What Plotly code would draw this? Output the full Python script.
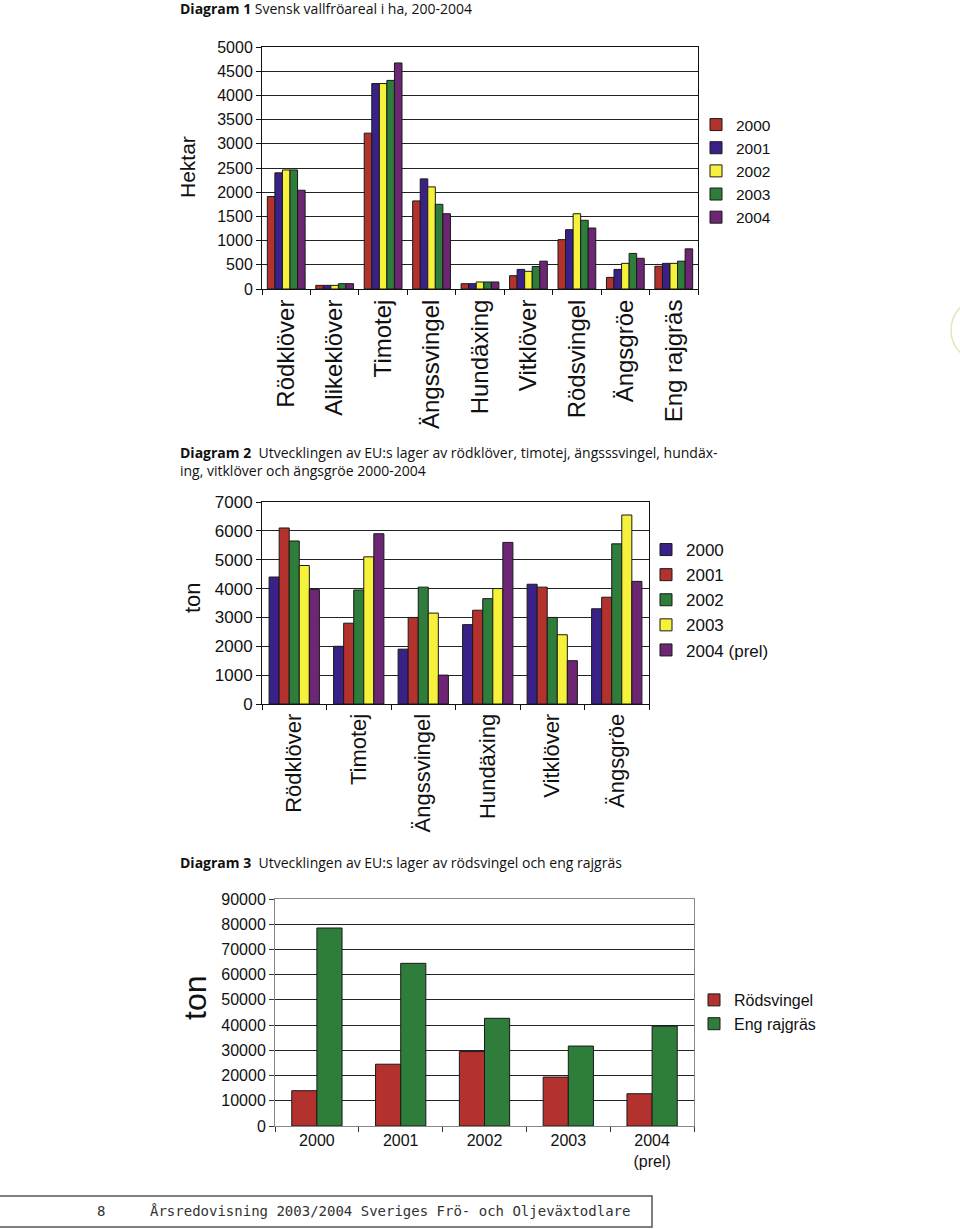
import plotly.graph_objects as go

W, H = 960, 1229
OFF = 0  # body margin removed by post_script below
def px(x): return (x - OFF) / W
def py(y): return 1 - (y - OFF) / H

# ---------------- Data ----------------
d1_categories = ["Rödklöver", "Alikeklöver", "Timotej", "Ängssvingel", "Hundäxing",
                 "Vitklöver", "Rödsvingel", "Ängsgröe", "Eng rajgräs"]
d1_years = ["2000", "2001", "2002", "2003", "2004"]
d1_2000 = [1910, 75, 3220, 1820, 110, 275, 1020, 240, 470]
d1_2001 = [2400, 75, 4245, 2275, 110, 405, 1225, 405, 530]
d1_2002 = [2460, 75, 4245, 2110, 145, 365, 1555, 530, 530]
d1_2003 = [2460, 110, 4310, 1750, 145, 465, 1420, 735, 575]
d1_2004 = [2040, 110, 4670, 1555, 145, 575, 1260, 635, 830]

d2_categories = ["Rödklöver", "Timotej", "Ängssvingel", "Hundäxing", "Vitklöver", "Ängsgröe"]
d2_years = ["2000", "2001", "2002", "2003", "2004 (prel)"]
d2_2000 = [4400, 2000, 1900, 2750, 4150, 3300]
d2_2001 = [6100, 2800, 3000, 3250, 4050, 3700]
d2_2002 = [5650, 3950, 4050, 3650, 3000, 5550]
d2_2003 = [4800, 5100, 3150, 4000, 2400, 6550]
d2_2004 = [3970, 5900, 1000, 5600, 1500, 4250]

d3_categories = ["2000", "2001", "2002", "2003", "2004<br>(prel)"]
d3_series = ["Rödsvingel", "Eng rajgräs"]
d3_rodsvingel = [14000, 24500, 29500, 19400, 12800]
d3_engrajgras = [78500, 64500, 42700, 31700, 39600]

RED = "#B3322E"
BLUE = "#3A2187"
YELLOW = "#F6F23C"
GREEN = "#2E7D3B"
PURPLE = "#6C2674"
OUTLINE = "#1a1a1a"

FONT = "Liberation Sans, Arial, sans-serif"
TFONT = "Open Sans, Noto Sans, sans-serif"

fig = go.Figure()

# ---------------- Diagram 1 ----------------
for name, vals, col in zip(d1_years, [d1_2000, d1_2001, d1_2002, d1_2003, d1_2004],
                           [RED, BLUE, YELLOW, GREEN, PURPLE]):
    fig.add_trace(go.Bar(x=d1_categories, y=vals, name=name, marker_color=col,
                         marker_line=dict(color=OUTLINE, width=1),
                         xaxis="x", yaxis="y", legend="legend"))

# ---------------- Diagram 2 ----------------
for name, vals, col in zip(d2_years, [d2_2000, d2_2001, d2_2002, d2_2003, d2_2004],
                           [BLUE, RED, GREEN, YELLOW, PURPLE]):
    fig.add_trace(go.Bar(x=d2_categories, y=vals, name=name, marker_color=col,
                         marker_line=dict(color=OUTLINE, width=1),
                         xaxis="x2", yaxis="y2", legend="legend2"))

# ---------------- Diagram 3 ----------------
for i, (name, vals, col) in enumerate(zip(d3_series, [d3_rodsvingel, d3_engrajgras], [RED, GREEN])):
    fig.add_trace(go.Bar(x=d3_categories, y=vals, name=name, marker_color=col,
                         marker_line=dict(color=OUTLINE, width=1),
                         width=0.3, offset=-0.3 + 0.3 * i,
                         xaxis="x3", yaxis="y3", legend="legend3"))

axis_common = dict(showline=True, linecolor="#111", linewidth=1, mirror=True,
                   ticks="outside", ticklen=5, tickcolor="#111", tickwidth=1,
                   automargin=False)

fig.update_layout(
    template="none",
    width=W, height=H, autosize=False,
    margin=dict(l=0, r=0, t=0, b=0, pad=0),
    paper_bgcolor="white", plot_bgcolor="white",
    barmode="group", bargap=0.22, bargroupgap=0,
    font=dict(family=FONT, color="#111"),
    xaxis=dict(type="category", domain=[px(262), px(698)], anchor="y", tickson="boundaries",
               showgrid=False, tickangle=-90, tickfont=dict(size=24, family=FONT), **axis_common),
    yaxis=dict(domain=[py(289), py(47)], anchor="x", range=[0, 5000], dtick=500,
               showgrid=True, gridcolor="#222", gridwidth=1, tickformat="d",
               tickfont=dict(size=16, family=FONT), zeroline=False, **axis_common),
    xaxis2=dict(type="category", domain=[px(262), px(649)], anchor="y2", tickson="boundaries",
                showgrid=False, tickangle=-90, tickfont=dict(size=22, family=FONT), **axis_common),
    yaxis2=dict(domain=[py(704), py(502)], anchor="x2", range=[0, 7000], dtick=1000,
                showgrid=True, gridcolor="#222", gridwidth=1, tickformat="d",
                tickfont=dict(size=17, family=FONT), zeroline=False, **axis_common),
    xaxis3=dict(type="category", domain=[px(275), px(694)], anchor="y3", tickson="boundaries",
                showgrid=False, tickangle=0, tickfont=dict(size=16, family=FONT),
                showline=True, linecolor="#888", linewidth=1, mirror=True,
                ticks="outside", ticklen=5, tickcolor="#333", automargin=False),
    yaxis3=dict(domain=[py(1126), py(899)], anchor="x3", range=[0, 90000], dtick=10000,
                showgrid=True, gridcolor="#222", gridwidth=1, tickformat="d",
                tickfont=dict(size=16, family=FONT), zeroline=False,
                showline=True, linecolor="#888", linewidth=1, mirror=True,
                ticks="outside", ticklen=5, tickcolor="#333", automargin=False),
    legend=dict(x=px(696), y=py(108), xanchor="left", yanchor="top",
                font=dict(size=15.5, family=FONT), bgcolor="rgba(0,0,0,0)",
                itemwidth=30, traceorder="normal"),
    legend2=dict(x=px(646), y=py(532), xanchor="left", yanchor="top",
                 font=dict(size=17, family=FONT), bgcolor="rgba(0,0,0,0)",
                 itemwidth=30, traceorder="normal"),
    legend3=dict(x=px(694), y=py(983), xanchor="left", yanchor="top",
                 font=dict(size=16, family=FONT), bgcolor="rgba(0,0,0,0)",
                 itemwidth=30, traceorder="normal"),
)

annotations = [
    dict(x=px(178), y=py(9), text="<b>Diagram 1</b> Svensk vallfröareal i ha, 200-2004",
         font=dict(size=14, family=TFONT)),
    dict(x=px(178), y=py(461),
         text="<b>Diagram 2</b>  Utvecklingen av EU:s lager av rödklöver, timotej, ängsssvingel, hundäx-"
              "<br>ing, vitklöver och ängsgröe 2000-2004",
         font=dict(size=14, family=TFONT), align="left"),
    dict(x=px(178), y=py(862),
         text="<b>Diagram 3</b>  Utvecklingen av EU:s lager av rödsvingel och eng rajgräs",
         font=dict(size=14, family=TFONT)),
    dict(x=px(95), y=py(1211), text="8", font=dict(size=14, family="DejaVu Sans Mono", color="#333")),
    dict(x=px(148), y=py(1211), text="Årsredovisning 2003/2004 Sveriges Frö- och Oljeväxtodlare",
         font=dict(size=14, family="DejaVu Sans Mono", color="#333")),
]
for a in annotations:
    a.update(xref="paper", yref="paper", xanchor="left", yanchor="middle", showarrow=False)

annotations += [
    dict(x=px(188), y=py(167), text="Hektar", textangle=-90, font=dict(size=21, family=FONT)),
    dict(x=px(193), y=py(598), text="ton", textangle=-90, font=dict(size=22, family=FONT)),
    dict(x=px(195), y=py(998), text="ton", textangle=-90, font=dict(size=32, family=FONT)),
]
for a in annotations[-3:]:
    a.update(xref="paper", yref="paper", xanchor="center", yanchor="middle", showarrow=False)

fig.update_layout(annotations=annotations)

fig.update_layout(shapes=[
    dict(type="rect", xref="paper", yref="paper", x0=px(-5), x1=px(652), y0=py(1227), y1=py(1196),
         line=dict(color="#555", width=1.5), fillcolor="rgba(0,0,0,0)"),
    dict(type="circle", xref="paper", yref="paper", x0=px(951), x1=px(1015), y0=py(362), y1=py(298),
         line=dict(color="#e8e3b8", width=1.5)),
])

fig.write_html("out.html", config={"displayModeBar": False},
               post_script="document.body.style.margin='0';document.body.style.overflow='hidden';")
